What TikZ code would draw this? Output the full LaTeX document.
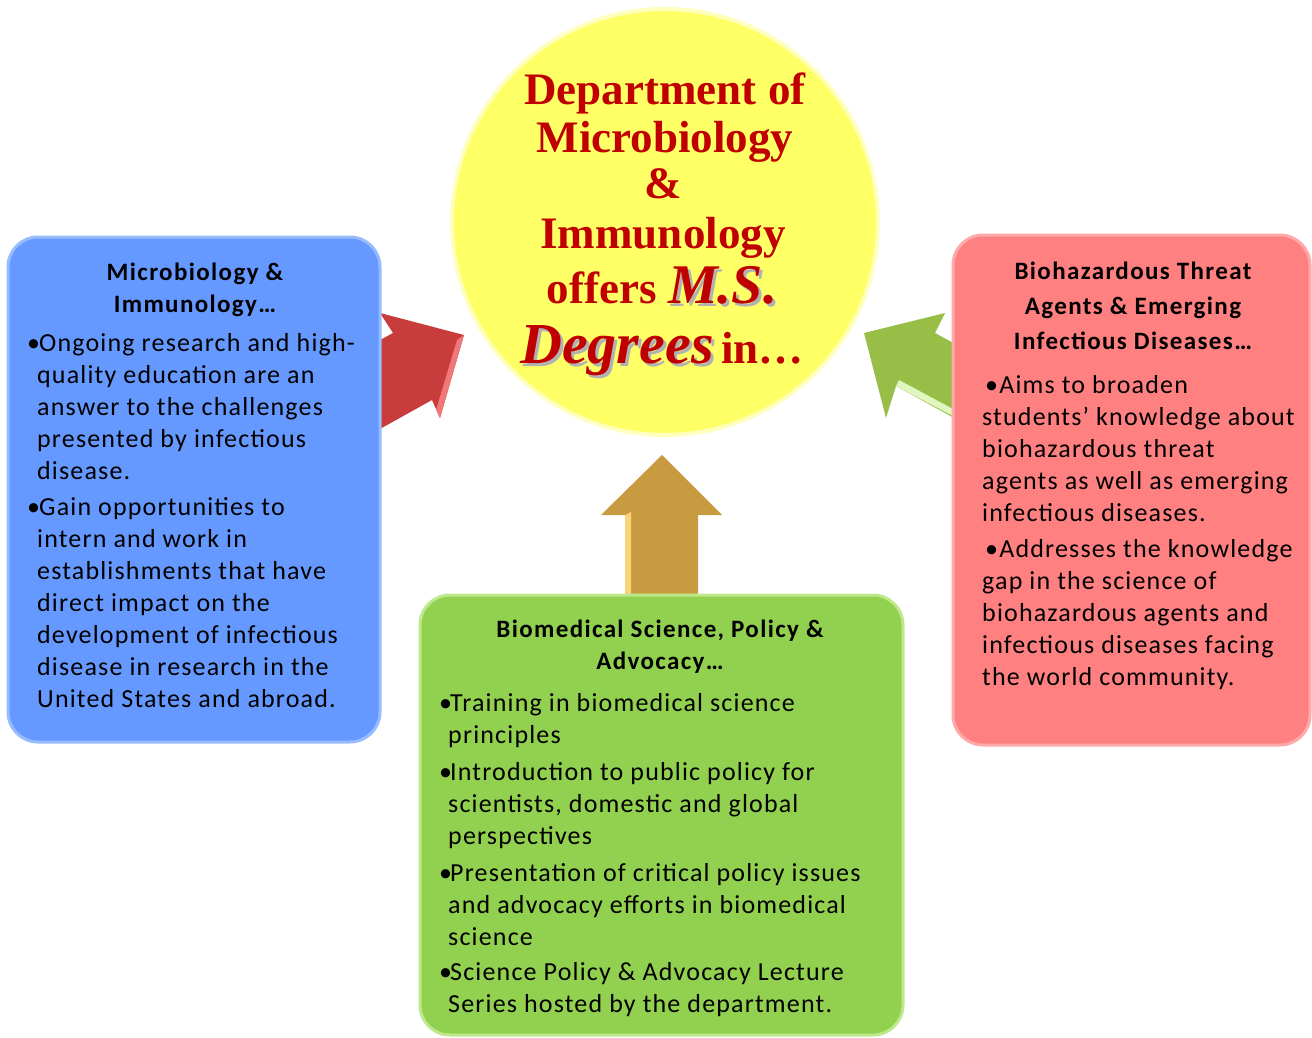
\documentclass[tikz,border=0pt]{standalone}
\usepackage{fontspec}
\setmainfont{Liberation Serif}
\newfontfamily\carlb{Carlito}[LetterSpace=4.5]
\newfontfamily\carlh{Carlito}[LetterSpace=5.5]
\definecolor{bluebox}{RGB}{102,153,255}
\definecolor{bluerim}{RGB}{150,188,255}
\definecolor{greenbox}{RGB}{146,208,80}
\definecolor{greenrim}{RGB}{190,232,140}
\definecolor{redbox}{RGB}{255,128,128}
\definecolor{redrim}{RGB}{255,170,170}
\definecolor{sunyellow}{RGB}{255,255,102}
\definecolor{sunrim}{RGB}{255,255,190}
\definecolor{titlered}{RGB}{192,0,0}
\definecolor{arrowred}{RGB}{200,60,60}
\definecolor{arrowredhi}{RGB}{240,120,120}
\definecolor{arrowgreen}{RGB}{152,190,72}
\definecolor{arrowgreenhi}{RGB}{225,245,190}
\definecolor{arrowgold}{RGB}{200,155,65}
\definecolor{arrowgoldhi}{RGB}{250,210,120}
\newcommand{\shadtxt}[1]{\makebox[0pt][l]{\hspace{3pt}\raisebox{-3pt}{\color{black!30}#1}}#1}
\newcommand{\bl}[1]{\makebox[#1][l]{\textbullet}}
\begin{document}
\begin{tikzpicture}[x=1pt,y=-1pt,
  panel/.style={rectangle, rounded corners=30pt, line width=3pt, inner sep=0pt},
  bodytext/.style={anchor=north west, inner sep=0pt, align=left, text=black,
    font=\carlb\fontsize{26}{32}\selectfont},
  headtext/.style={anchor=north, inner sep=0pt, align=center, text=black,
    font=\carlh\bfseries\fontsize{25}{32}\selectfont},
  ttl/.style={anchor=base, inner sep=0pt, text=titlered,
    font=\bfseries\fontsize{45}{50}\selectfont}]
\useasboundingbox (0,0) rectangle (1312,1038);

% ---- block arrows (drawn first, partly covered) ----
% red arrow
\fill[arrowred] (358,352) -- (393,333) -- (380,313) -- (464,335) -- (440,418) -- (432,400) -- (362,439) -- cycle;
\fill[arrowredhi] (464,335) -- (457,340) -- (436,410) -- (440,418) -- cycle;
% green arrow
\fill[arrowgreen] (970,352) -- (935,333) -- (945,313) -- (864,333) -- (886,418) -- (896,386) -- (976,430) -- cycle;
\fill[arrowgreenhi] (896,386) -- (899,380) -- (953,409) -- (953,416) -- cycle;
% gold arrow
\fill[arrowgold] (625,600) -- (625,515) -- (601,515) -- (662,455) -- (722,515) -- (698,515) -- (698,600) -- cycle;
\fill[arrowgoldhi] (625,600) -- (625,515) -- (631,512) -- (631,600) -- cycle;

% ---- panels ----
\node[panel, fill=bluebox, draw=bluerim, minimum width=372pt, minimum height=505pt] (micro) at (194,489.5) {};
\node[panel, fill=greenbox, draw=greenrim, minimum width=483pt, minimum height=440pt] (bio) at (661.5,815) {};
\node[panel, fill=redbox, draw=redrim, minimum width=357pt, minimum height=510pt] (haz) at (1131.5,490) {};

% ---- central circle ----
\node[circle, fill=sunyellow, draw=sunrim, line width=4pt, minimum size=426pt, inner sep=0pt] (dept) at (665,222) {};

% ---- circle title ----
\node[ttl] (t1) at (665,105) {Department of};
\node[ttl] (t2) at (665,153) {Microbiology};
\node[ttl] (t3) at (663,198) {\&};
\node[ttl] (t4) at (663,248) {Immunology};
\node[ttl] (t5) at (662,303) {offers {\itshape\fontsize{56}{60}\selectfont\shadtxt{M.S.}}};
\node[ttl] (t6) at (662,363) {{\itshape\fontsize{58}{60}\selectfont\shadtxt{Degrees}}\,in…};

% ---- blue panel text ----
\node[headtext] (microhead) at (195,257.6) {\strut Microbiology \&\\Immunology…};
\node[bodytext] (microbody) at (27,328.6) {%
\strut\bl{12pt}Ongoing research and high-\\
\hspace*{10pt}quality education are an\\
\hspace*{10pt}answer to the challenges\\
\hspace*{10pt}presented by infectious\\
\hspace*{10pt}disease.\\[4pt]
\bl{12pt}Gain opportunities to\\
\hspace*{10pt}intern and work in\\
\hspace*{10pt}establishments that have\\
\hspace*{10pt}direct impact on the\\
\hspace*{10pt}development of infectious\\
\hspace*{10pt}disease in research in the\\
\hspace*{10pt}United States and abroad.};

% ---- green panel text ----
\node[headtext] (biohead) at (660,614.6) {\strut Biomedical Science, Policy \&\\Advocacy…};
\node[bodytext] (biobody) at (439,688.6) {%
\strut\bl{11pt}Training in biomedical science\\
\hspace*{9pt}principles\\[5pt]
\bl{11pt}Introduction to public policy for\\
\hspace*{9pt}scientists, domestic and global\\
\hspace*{9pt}perspectives\\[5pt]
\bl{11pt}Presentation of critical policy issues\\
\hspace*{9pt}and advocacy efforts in biomedical\\
\hspace*{9pt}science\\[3pt]
\bl{11pt}Science Policy \& Advocacy Lecture\\
\hspace*{9pt}Series hosted by the department.};

% ---- red panel text ----
\node[headtext, font=\carlh\bfseries\fontsize{25}{35}\selectfont] (hazhead) at (1133,254.5) {\strut Biohazardous Threat\\Agents \& Emerging\\Infectious Diseases…};
\node[bodytext] (hazbody) at (982,370.6) {%
\strut\hspace*{3pt}\textbullet Aims to broaden\\
students’ knowledge about\\
biohazardous threat\\
agents as well as emerging\\
infectious diseases.\\[4pt]
\hspace*{3pt}\textbullet Addresses the knowledge\\
gap in the science of\\
biohazardous agents and\\
infectious diseases facing\\
the world community.};
\end{tikzpicture}
\end{document}
